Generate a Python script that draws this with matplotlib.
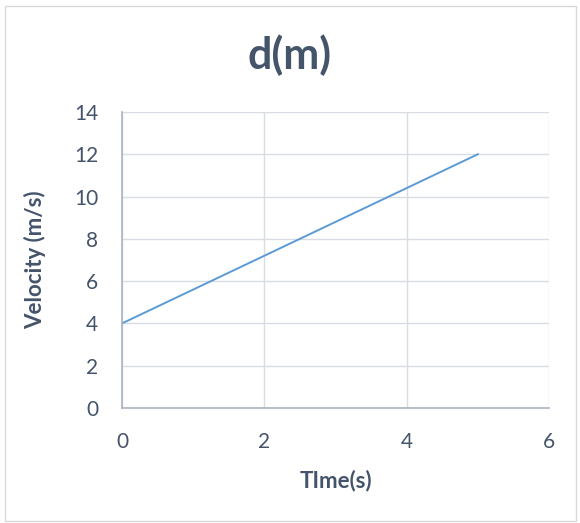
import matplotlib.pyplot as plt
from matplotlib.patches import Rectangle

# Velocity vs time
time_s = [0, 5]
velocity = [4, 12]

x_ticks = [0, 2, 4, 6]
y_ticks = [0, 2, 4, 6, 8, 10, 12, 14]

text_color = '#44546A'
grid_color = '#D9DDE3'
axis_color = '#A9B4C2'
line_color = '#5B9BD5'

plt.rcParams['font.family'] = ['Lato', 'DejaVu Sans']

fig = plt.figure(figsize=(5.8, 5.23), dpi=100)
ax = fig.add_axes([0.2103, 0.2199, 0.7362, 0.566])

ax.plot(time_s, velocity, color=line_color, linewidth=1.4)

ax.set_xlim(0, 6)
ax.set_ylim(0, 14)
ax.set_xticks(x_ticks)
ax.set_yticks(y_ticks)
ax.grid(True, color=grid_color, linewidth=1)
ax.set_axisbelow(True)

for side in ['top', 'right']:
    ax.spines[side].set_visible(False)
for side in ['left', 'bottom']:
    ax.spines[side].set_color(axis_color)
    ax.spines[side].set_linewidth(1.2)

ax.tick_params(axis='x', length=0, labelsize=15, labelcolor=text_color, pad=17)
ax.tick_params(axis='y', length=0, labelsize=15, labelcolor=text_color, pad=17)

ax.set_xlabel('TIme(s)', fontsize=16, fontweight='bold', color=text_color, labelpad=13)
ax.set_ylabel('Velocity (m/s)', fontsize=16, fontweight='bold', color=text_color, labelpad=20)
fig.text(0.5, 0.895, 'd(m)', ha='center', va='center', fontsize=31,
         fontweight='bold', color=text_color)

# chart frame
fig.patches.append(Rectangle((5 / 580, 2 / 523), 571 / 580, 515 / 523,
                             transform=fig.transFigure, fill=False,
                             edgecolor='#D9D9D9', linewidth=1))

fig.savefig('out.png', dpi=100)
